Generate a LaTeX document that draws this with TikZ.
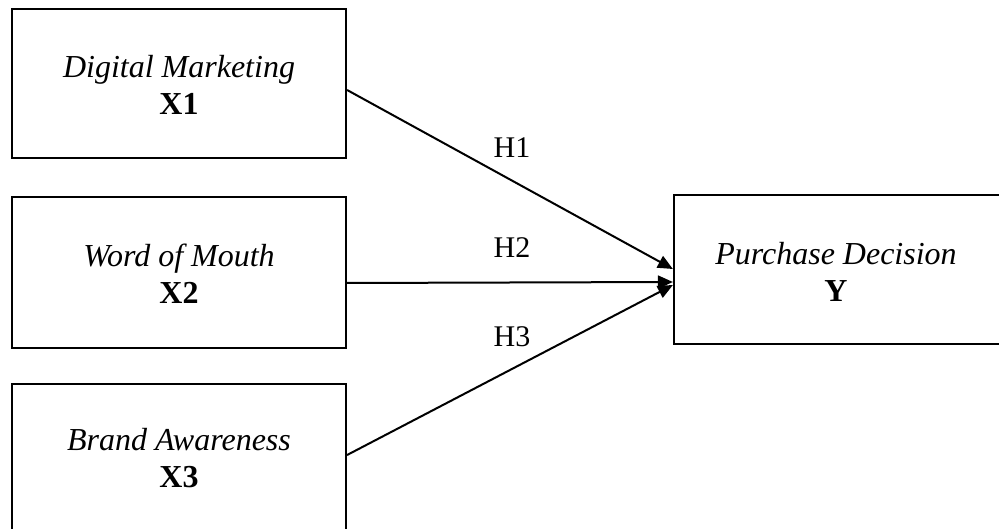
\documentclass[tikz,border=0pt]{standalone}
\usepackage{fontspec}
\setmainfont{Liberation Serif}
\usetikzlibrary{arrows.meta}
\begin{document}
\begin{tikzpicture}[x=1pt,y=-1pt,
  box/.style={draw, line width=2.2pt, inner sep=0pt},
  lbl/.style={font=\fontsize{32}{37}\selectfont, align=center, inner sep=0pt},
  hyp/.style={font=\fontsize{30}{36}\selectfont, inner sep=0pt},
  arr/.style={line width=2pt, -{Triangle[length=15pt,width=13pt]}}]
\useasboundingbox (0,0) rectangle (999,529);
% boxes
\node[box, minimum width=334pt, minimum height=149pt] (x1) at (179,83.5) {};
\node[box, minimum width=334pt, minimum height=151pt] (x2) at (179,272.5) {};
\node[box, minimum width=334pt, minimum height=148pt] (x3) at (179,458) {};
\node[box, minimum width=328pt, minimum height=149pt] (yy) at (838,269.5) {};
% texts
\node[lbl] (t1) at (179,85) {\textit{Digital Marketing}\\\textbf{X1}};
\node[lbl] (t2) at (179,273.5) {\textit{Word of Mouth}\\\textbf{X2}};
\node[lbl] (t3) at (179,458.5) {\textit{Brand Awareness}\\\textbf{X3}};
\node[lbl] (ty) at (836,271.5) {\textit{Purchase Decision}\\\textbf{Y}};
% arrows
\draw[arr] ([yshift=-6.5pt]x1.east) -- ([yshift=0.5pt]yy.west);
\draw[arr] ([yshift=-10.5pt]x2.east) -- ([yshift=-12.5pt]yy.west);
\draw[arr] ([yshift=3pt]x3.east) -- ([yshift=-15.5pt]yy.west);
% hypothesis labels
\node[hyp] (h1) at (512,148) {H1};
\node[hyp] (h2) at (512,248) {H2};
\node[hyp] (h3) at (512,337) {H3};
\end{tikzpicture}
\end{document}
